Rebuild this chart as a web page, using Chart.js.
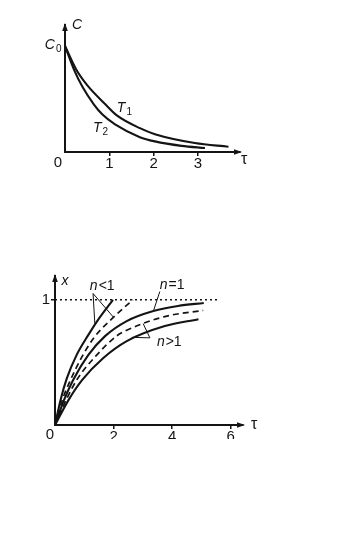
<!DOCTYPE html>
<html><head><meta charset="utf-8">
<script src="https://cdn.jsdelivr.net/npm/chart.js@4"></script>
<style>
html,body{margin:0;padding:0;background:#fff;width:340px;height:537px;overflow:hidden}
#w1{position:absolute;left:0;top:0;width:340px;height:200px}
#w2{position:absolute;left:0;top:250px;width:340px;height:189px;overflow:hidden}
canvas{display:block}
</style></head><body>
<div id="w1"><canvas id="c1" width="340" height="200"></canvas></div>
<div id="w2"><canvas id="c2" width="340" height="230"></canvas></div>
<script>
// ---- Top chart: concentration C vs time tau ----
const tauT1 = [0, 0.25, 0.5, 0.91, 1.17, 1.69, 2.03, 2.93, 3.69];
const cT1   = [1, 0.78, 0.63, 0.45, 0.345, 0.225, 0.168, 0.085, 0.05];
const tauT2 = [0, 0.2, 0.4, 0.65, 0.84, 1.13, 1.69, 2.03, 2.63, 3.16];
const cT2   = [1, 0.78, 0.61, 0.45, 0.355, 0.26, 0.14, 0.1, 0.058, 0.037];
const topXTicks = [1, 2, 3];

// ---- Bottom chart: conversion x vs time tau ----
const tauS1 = [0, 0.19, 0.4, 0.74, 1.14, 1.47, 1.98];
const xS1   = [0, 0.2, 0.37, 0.56, 0.72, 0.84, 1.0];
const tauD2 = [0, 0.25, 0.51, 0.91, 1.34, 2.04, 2.66];
const xD2   = [0, 0.2, 0.35, 0.54, 0.7, 0.87, 1.0];
const tauS3 = [0, 0.31, 0.62, 1.14, 1.71, 2.45, 3.36, 4.2, 5.08];
const xS3   = [0, 0.2, 0.36, 0.56, 0.71, 0.83, 0.91, 0.951, 0.974];
const tauD4 = [0, 0.38, 0.77, 1.39, 2.1, 2.39, 3.75, 5.06];
const xD4   = [0, 0.2, 0.37, 0.55, 0.71, 0.75, 0.866, 0.915];
const tauS5 = [0, 0.45, 0.93, 1.65, 2.45, 3.75, 4.9];
const xS5   = [0, 0.195, 0.36, 0.535, 0.67, 0.79, 0.845];
const tauLimit = [0, 5.56];
const xLimit   = [1, 1];
const bottomXTicks = [2, 4, 6];
const bottomYTicks = [1];

// annotation anchors (data coordinates)
const topNotes = [
  {parts:[{t:'C', i:true}], tau:0.16, v:1.2, align:'left'},
  {parts:[{t:'C', i:true},{t:'0', sub:true}], tau:-0.08, v:1.01, align:'right'},
  {parts:[{t:'T', i:true},{t:'1', sub:true}], tau:1.17, v:0.415, align:'left'},
  {parts:[{t:'T', i:true},{t:'2', sub:true}], tau:0.63, v:0.226, align:'left'}
];
const bottomNotes = [
  {parts:[{t:'x', i:true}], tau:0.22, v:1.15, align:'left'},
  {parts:[{t:'n', i:true},{t:'<1'}], tau:1.19, v:1.106, align:'left'},
  {parts:[{t:'n', i:true},{t:'=1'}], tau:3.58, v:1.12, align:'left'},
  {parts:[{t:'n', i:true},{t:'>1'}], tau:3.48, v:0.664, align:'left'}
];
const bottomPointers = [
  [[1.3, 1.05], [1.36, 0.81]],
  [[1.3, 1.05], [2.0, 0.86]],
  [[3.58, 1.066], [3.36, 0.91]],
  [[3.24, 0.696], [3.01, 0.81]],
  [[3.24, 0.696], [2.62, 0.7]]
];

const FAM = '"Liberation Sans", Arial, sans-serif';
const INK = '#141414';

function pts(xs, ys){ return xs.map((x,k)=>({x:x, y:ys[k]})); }
function curve(xs, ys, dashed){
  return {data: pts(xs, ys), borderColor: INK, borderWidth: dashed ? 1.7 : 2.1,
    borderDash: dashed ? [6,4] : [], pointRadius: 0, fill: false,
    cubicInterpolationMode: 'monotone'};
}

function drawParts(ctx, parts, x, y, align, size){
  const fonts = parts.map(p => (p.i ? 'italic ' : '') + (p.sub ? Math.round(size*0.68) : size) + 'px ' + FAM);
  let w = 0; const ws = [];
  parts.forEach((p,k)=>{ ctx.font = fonts[k]; const m = ctx.measureText(p.t).width; ws.push(m); w += m + (p.i?1:0); });
  let cx = align === 'right' ? x - w : x;
  ctx.textAlign = 'left'; ctx.textBaseline = 'middle'; ctx.fillStyle = INK;
  parts.forEach((p,k)=>{ ctx.font = fonts[k]; ctx.fillText(p.t, cx, p.sub ? y + size*0.32 : y); cx += ws[k] + (p.i?1:0); });
}

function arrows(ctx, a){
  ctx.fillStyle = INK;
  ctx.beginPath(); ctx.moveTo(a.left, a.top - 2); ctx.lineTo(a.left - 2.8, a.top + 6); ctx.lineTo(a.left + 2.8, a.top + 6); ctx.closePath(); ctx.fill();
  ctx.beginPath(); ctx.moveTo(a.right + 2, a.bottom); ctx.lineTo(a.right - 6, a.bottom - 2.8); ctx.lineTo(a.right - 6, a.bottom + 2.8); ctx.closePath(); ctx.fill();
}

function decorPlugin(notes, pointers, originLabel, tauLabel){
  return {
    id: 'decor',
    afterDraw(chart){
      const ctx = chart.ctx, a = chart.chartArea, sx = chart.scales.x, sy = chart.scales.y;
      ctx.save();
      arrows(ctx, a);
      ctx.strokeStyle = INK; ctx.lineWidth = 1;
      pointers.forEach(p => {
        ctx.beginPath();
        ctx.moveTo(sx.getPixelForValue(p[0][0]), sy.getPixelForValue(p[0][1]));
        ctx.lineTo(sx.getPixelForValue(p[1][0]), sy.getPixelForValue(p[1][1]));
        ctx.stroke();
      });
      notes.forEach(n => drawParts(ctx, n.parts, sx.getPixelForValue(n.tau), sy.getPixelForValue(n.v), n.align, 14));
      ctx.font = '15px ' + FAM; ctx.fillStyle = INK; ctx.textBaseline = 'middle'; ctx.textAlign = 'center';
      ctx.fillText('0', a.left + originLabel.dx, a.bottom + originLabel.dy);
      ctx.font = '16px ' + FAM; ctx.textAlign = 'left';
      ctx.fillText('\u03C4', a.right + tauLabel.dx, a.bottom + tauLabel.dy);
      ctx.restore();
    }
  };
}

function axisX(min, max, ticks, h){
  return {type:'linear', min:min, max:max,
    afterBuildTicks: s => { s.ticks = ticks.map(v => ({value:v})); },
    afterFit: s => { s.height = h; },
    grid:{display:true, drawOnChartArea:false, drawTicks:true, tickLength:4, color:INK, lineWidth:1.5},
    border:{display:true, color:INK, width:2},
    ticks:{color:INK, font:{family:FAM, size:15, lineHeight:1}, padding:0, maxRotation:0, autoSkip:false}};
}

// ---- Top chart ----
new Chart(document.getElementById('c1'), {
  type: 'line',
  data: { datasets: [ curve(tauT1, cT1, false), curve(tauT2, cT2, false) ] },
  options: {
    responsive:false, animation:false, events:[],
    layout:{padding:{left:65, right:100, top:25, bottom:18}},
    plugins:{legend:{display:false}, tooltip:{enabled:false}},
    scales:{
      x: axisX(0, 3.95, topXTicks, 30),
      y: {type:'linear', min:0, max:1.198, afterFit: s => { s.width = 0; },
          ticks:{display:false}, grid:{display:false}, border:{display:true, color:INK, width:2}}
    }
  },
  plugins:[decorPlugin(topNotes, [], {dx:-7, dy:11}, {dx:1, dy:8})]
});

// ---- Bottom chart ----
const limitSet = {data: pts(tauLimit, xLimit), borderColor: INK, borderWidth: 1.5, borderDash:[2,3], pointRadius:0, fill:false};
new Chart(document.getElementById('c2'), {
  type: 'line',
  data: { datasets: [ limitSet, curve(tauS1, xS1, false), curve(tauD2, xD2, true), curve(tauS3, xS3, false),
                      curve(tauD4, xD4, true), curve(tauS5, xS5, false) ] },
  options: {
    responsive:false, animation:false, events:[],
    layout:{padding:{left:41, right:97, top:26, bottom:15}},
    plugins:{legend:{display:false}, tooltip:{enabled:false}},
    scales:{
      x: axisX(0, 6.42, bottomXTicks, 40),
      y: {type:'linear', min:0, max:1.19,
          afterBuildTicks: s => { s.ticks = bottomYTicks.map(v => ({value:v})); },
          afterFit: s => { s.width = 14; },
          grid:{display:true, drawOnChartArea:false, drawTicks:true, tickLength:4, color:INK, lineWidth:1.5},
          ticks:{color:INK, font:{family:FAM, size:15, lineHeight:1}, padding:1, autoSkip:false,
                 callback: v => String(v)},
          border:{display:true, color:INK, width:2}}
    }
  },
  plugins:[decorPlugin(bottomNotes, bottomPointers, {dx:-5, dy:10}, {dx:8, dy:0})]
});
</script>
</body></html>
